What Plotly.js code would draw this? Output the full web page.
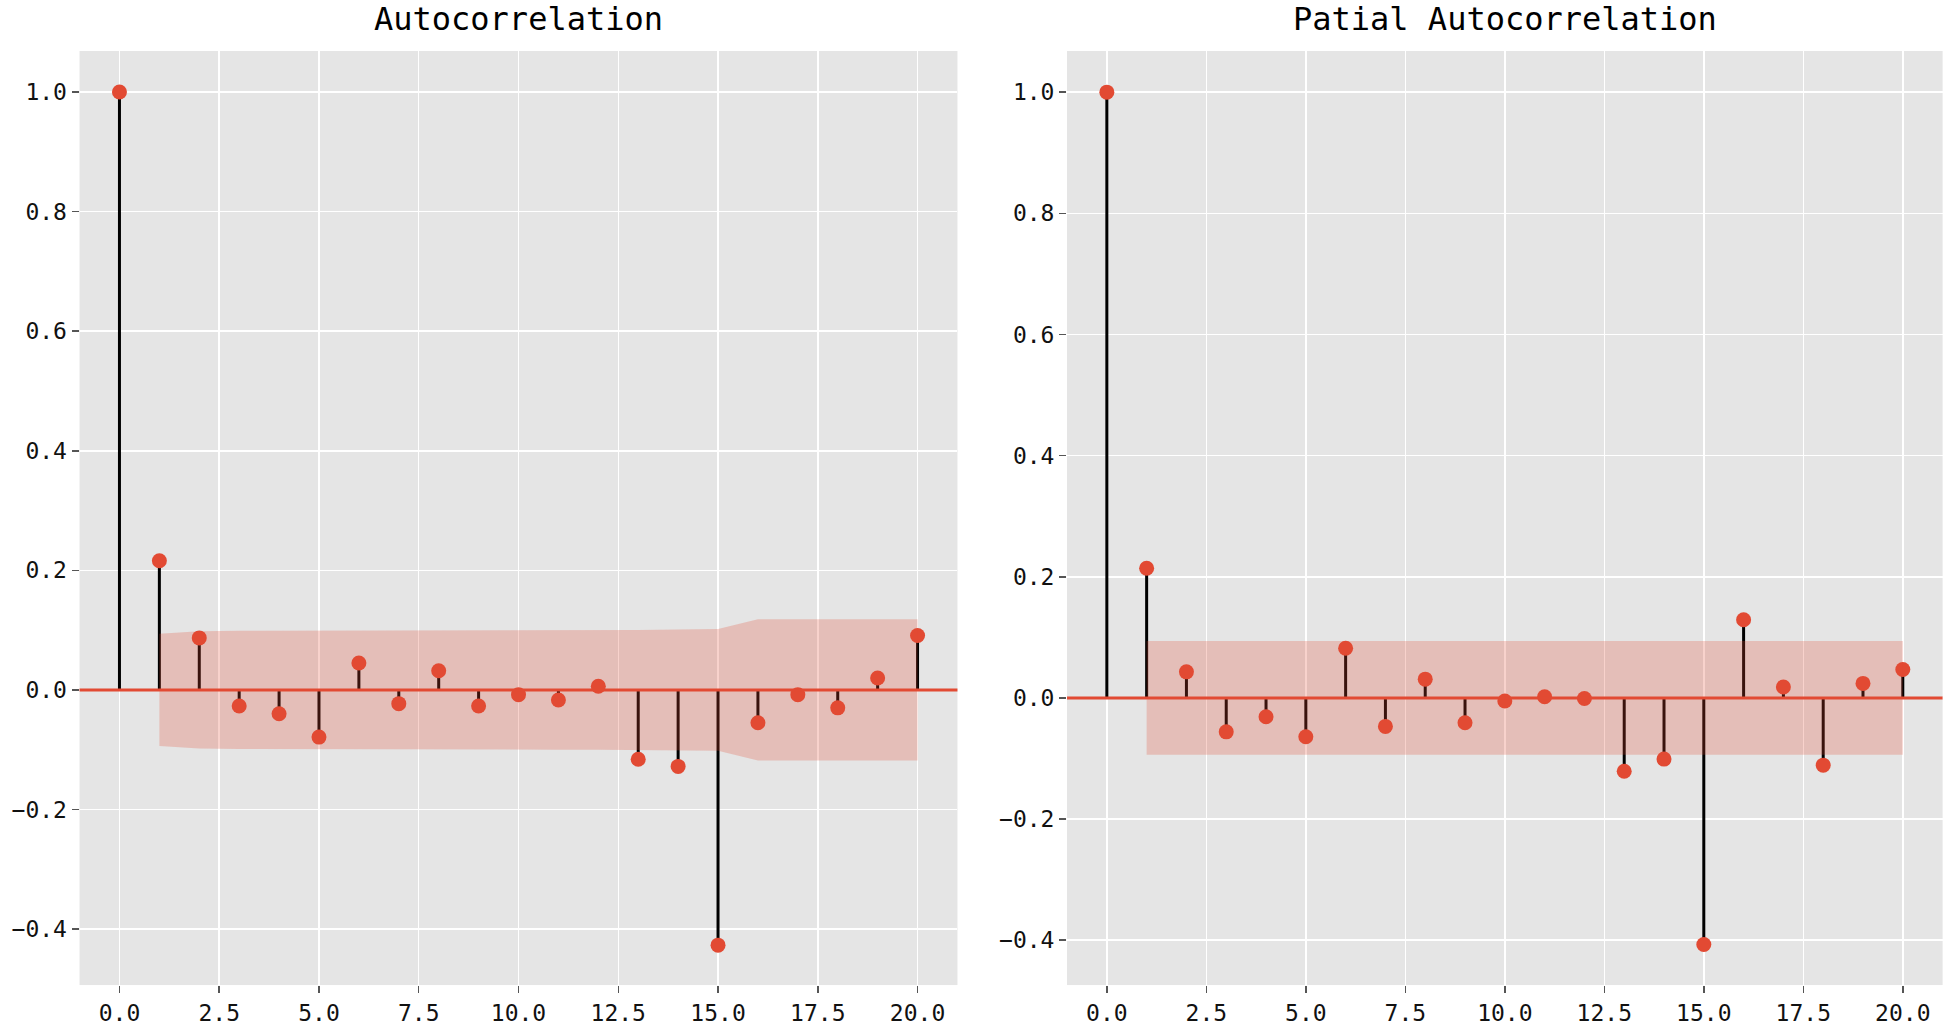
<!DOCTYPE html>
<html>
<head>
<meta charset="utf-8">
<script src="https://cdn.plot.ly/plotly-3.0.1.min.js"></script>
<style>html,body{margin:0;padding:0;background:#fff;}#chart{width:1950px;height:1032px;}</style>
</head>
<body>
<div id="chart"></div>
<script>
const lags = [0,1,2,3,4,5,6,7,8,9,10,11,12,13,14,15,16,17,18,19,20];
const acfValues = [1.0,0.216,0.087,-0.027,-0.040,-0.079,0.045,-0.023,0.032,-0.027,-0.008,-0.017,0.006,-0.116,-0.128,-0.427,-0.055,-0.008,-0.030,0.020,0.091];
const pacfValues = [1.0,0.214,0.043,-0.056,-0.031,-0.064,0.082,-0.047,0.031,-0.041,-0.005,0.002,-0.001,-0.121,-0.101,-0.407,0.129,0.018,-0.111,0.024,0.047];
const bandLags = [1,2,3,4,5,6,7,8,9,10,11,12,13,14,15,16,17,18,19,20];
const acfBandUpper = [0.094,0.098,0.099,0.099,0.099,0.100,0.100,0.100,0.100,0.100,0.100,0.100,0.100,0.101,0.102,0.118,0.118,0.118,0.118,0.118];
const pacfBandUpper = [0.094,0.094,0.094,0.094,0.094,0.094,0.094,0.094,0.094,0.094,0.094,0.094,0.094,0.094,0.094,0.094,0.094,0.094,0.094,0.094];
const xTicks = [0,2.5,5,7.5,10,12.5,15,17.5,20];
const yTicks = [-0.4,-0.2,0,0.2,0.4,0.6,0.8,1.0];
const titles = ["Autocorrelation","Patial Autocorrelation"];

const RED = '#E24A33';
const FONT = '"DejaVu Sans Mono", "Liberation Mono", monospace';

function stemTraces(vals, upper, xa, ya) {
  const sx = [], sy = [];
  lags.forEach((l, i) => { sx.push(l, l, null); sy.push(0, vals[i], null); });
  const bx = bandLags.concat(bandLags.slice().reverse());
  const by = upper.concat(upper.slice().reverse().map(v => -v));
  return [
    {x: sx, y: sy, mode: 'lines', line: {color: '#000', width: 3}, xaxis: xa, yaxis: ya, hoverinfo: 'skip', showlegend: false},
    {x: lags, y: vals, mode: 'markers', marker: {color: RED, size: 15}, xaxis: xa, yaxis: ya, showlegend: false},
    {x: bx, y: by, mode: 'lines', fill: 'toself', fillcolor: 'rgba(226,74,51,0.25)', line: {width: 0}, xaxis: xa, yaxis: ya, hoverinfo: 'skip', showlegend: false}
  ];
}

const data = [].concat(
  stemTraces(acfValues, acfBandUpper, 'x', 'y'),
  stemTraces(pacfValues, pacfBandUpper, 'x2', 'y2')
);

function xaxis(domain, anchor) {
  return {domain: domain, anchor: anchor, range: [-1, 21], tickvals: xTicks, tickformat: '.1f',
    showgrid: true, gridcolor: '#fff', gridwidth: 1.5, zeroline: false, showline: false,
    ticks: 'outside', ticklen: 7, tickwidth: 1.5, tickcolor: '#555',
    tickfont: {family: FONT, size: 23, color: '#111'}};
}
function yaxis(range, anchor) {
  return {domain: [0.0455, 0.9506], anchor: anchor, range: range, tickvals: yTicks, tickformat: '.1f',
    showgrid: true, gridcolor: '#fff', gridwidth: 1.5, zeroline: false, showline: false,
    ticks: 'outside', ticklen: 7, tickwidth: 1.5, tickcolor: '#555',
    tickfont: {family: FONT, size: 23, color: '#111'}};
}

const layout = {
  width: 1950, height: 1032,
  margin: {l: 0, r: 0, t: 0, b: 0},
  paper_bgcolor: '#fff', plot_bgcolor: '#E5E5E5',
  showlegend: false,
  xaxis: xaxis([0.0408, 0.4910], 'y'),
  yaxis: yaxis([-0.4937, 1.0687], 'x'),
  xaxis2: xaxis([0.5472, 0.9962], 'y2'),
  yaxis2: yaxis([-0.474, 1.068], 'x2'),
  shapes: [
    {type: 'line', xref: 'x domain', yref: 'y', x0: 0, x1: 1, y0: 0, y1: 0, line: {color: RED, width: 3}, layer: 'above'},
    {type: 'line', xref: 'x2 domain', yref: 'y2', x0: 0, x1: 1, y0: 0, y1: 0, line: {color: RED, width: 3}, layer: 'above'}
  ],
  annotations: [
    {text: titles[0], xref: 'x domain', yref: 'paper', x: 0.5, y: 0.9816, xanchor: 'center', yanchor: 'middle', showarrow: false, font: {family: FONT, size: 32, color: '#000'}},
    {text: titles[1], xref: 'x2 domain', yref: 'paper', x: 0.5, y: 0.9816, xanchor: 'center', yanchor: 'middle', showarrow: false, font: {family: FONT, size: 32, color: '#000'}}
  ]
};

Plotly.newPlot('chart', data, layout, {displayModeBar: false, staticPlot: true});
</script>
</body>
</html>
